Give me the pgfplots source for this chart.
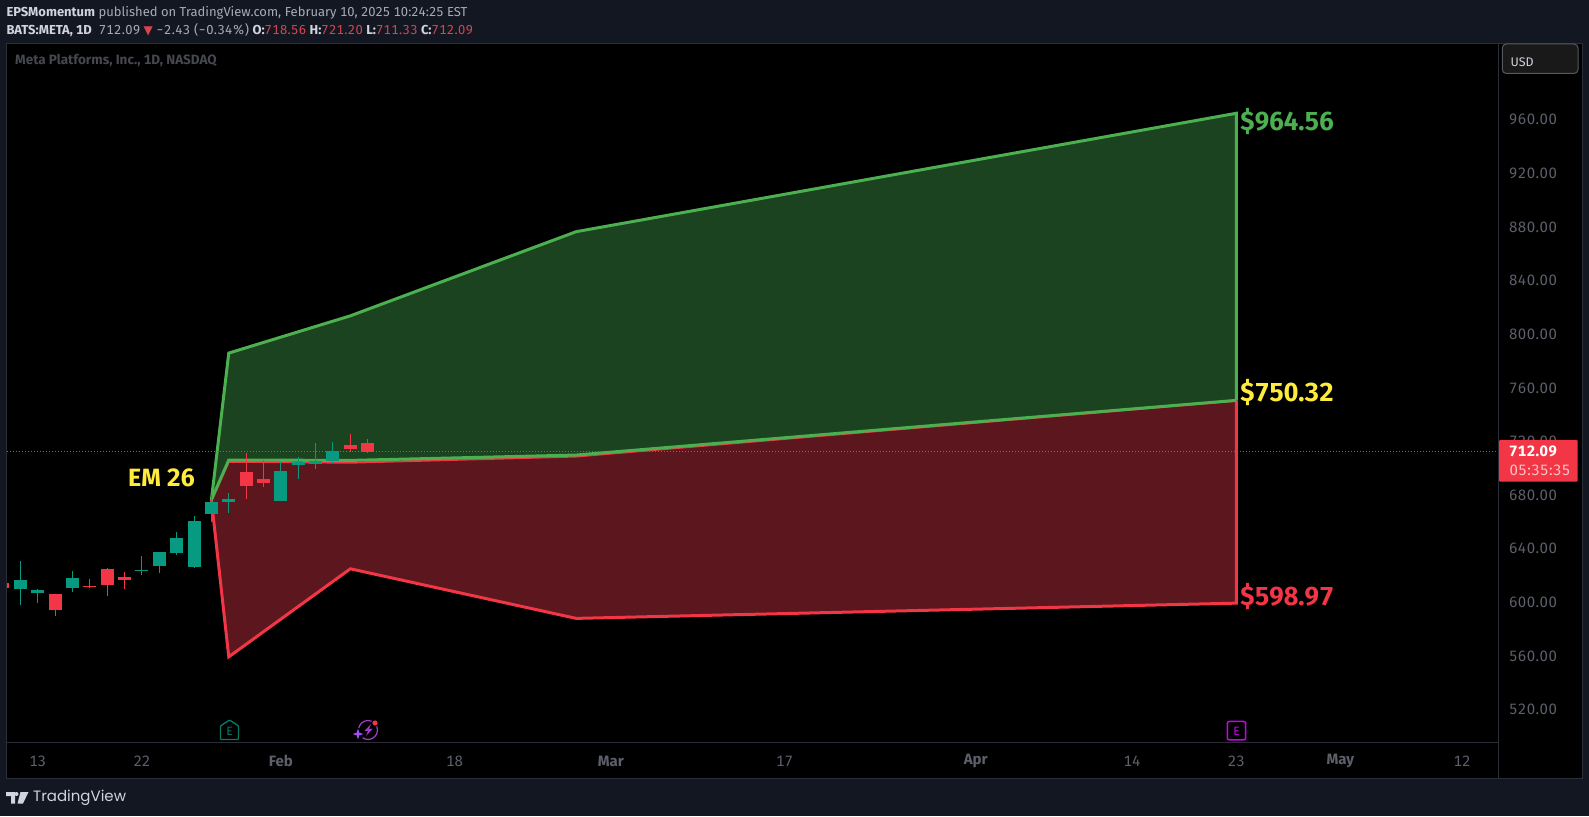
\documentclass[border=0pt]{standalone}
\usepackage{fontspec}
\setmainfont[Numbers=Tabular]{Fira Sans}
\newfontfamily\dv{DejaVu Sans}
\newfontfamily\logofont{Poppins}
\newfontfamily\fira[Numbers=Tabular]{Fira Sans}
\usepackage{pgfplots}
\pgfplotsset{compat=1.18}
\definecolor{bg}{HTML}{131722}
\definecolor{frame}{HTML}{2A2E39}
\definecolor{ticktxt}{HTML}{5D606B}
\definecolor{cgreen}{HTML}{089981}
\definecolor{cred}{HTML}{F23645}
\definecolor{lgreen}{HTML}{4CAF50}
\definecolor{fgreen}{HTML}{1C431F}
\definecolor{fred}{HTML}{5C161D}
\definecolor{yel}{HTML}{FFEB3B}
\definecolor{headA}{HTML}{D1D4DC}
\definecolor{headB}{HTML}{A8ABB4}
\definecolor{headR}{HTML}{D64550}
\definecolor{emag}{HTML}{CC00EE}
\definecolor{spark}{HTML}{A23CC8}
\begin{document}
\begin{tikzpicture}[x=1pt,y=1pt]
\fill[bg] (0,0) rectangle (1589,816);
\fill[black] (6.67,37) rectangle (1582,772.7);
\begin{axis}[
  at={(6.67pt,73pt)}, anchor=south west,
  scale only axis, width=1491.33pt, height=699.7pt,
  xmin=-0.786, xmax=85.07, ymin=494.6, ymax=1016.8,
  axis background/.style={fill=black},
  axis line style={draw=frame,line width=1pt},
  axis x line*=bottom, axis y line*=right,
  major tick length=0pt,
  xtick={1,7,15,25,34,44,55,64,70,76,83},
  xticklabels={13,22,\textbf{Feb},18,\textbf{Mar},17,\textbf{Apr},14,23,\textbf{May},12},
  ytick={520,560,600,640,680,720,760,800,840,880,920,960},
  /pgf/number format/assume math mode=true,
  /pgf/number format/fixed,/pgf/number format/fixed zerofill,/pgf/number format/precision=2,
  xticklabel style={font=\fontsize{15}{17}\selectfont,text=ticktxt,anchor=center,yshift=-18pt},
  yticklabel style={font=\fontsize{15}{17}\selectfont\addfontfeature{LetterSpace=3},text=ticktxt,anchor=center,xshift=35pt,yshift=-0.5pt},
  unbounded coords=jump,
]
% areas
\addplot[fill=fgreen,draw=none] coordinates {(11,676)(12,785.6)(19,813.4)(32,876.2)(70,964.56)(70,750.32)(32,709.3)(19,705.5)(12,705.5)} -- cycle;
\addplot[fill=fred,draw=none] coordinates {(11,676)(12,705)(19,704)(32,708.6)(70,750.32)(70,598.97)(32,587.6)(19,624.6)(12,558.9)} -- cycle;
% last price line
\addplot[cred,line width=0.8pt,dash pattern=on 1pt off 2pt] coordinates {(-0.786,712.09)(70,712.09)(85.07,712.09)};
% band outlines
\addplot[cred,line width=3pt,line join=miter] coordinates {(11,676)(12,558.9)(19,624.6)(32,587.6)(70,598.97)(70,750.32)};
\addplot[cred,line width=2pt] coordinates {(11,676)(12,704.5)(19,703.8)(32,708.4)(70,750)};
\addplot[lgreen,line width=3pt,line join=miter] coordinates {(11,676)(12,785.6)(19,813.4)(32,876.2)(70,964.56)(70,750.32)};
\addplot[lgreen,line width=3pt] coordinates {(11,676)(12,705.8)(19,705.5)(32,709.5)(70,750.32)};
% wicks
\addplot[cgreen,line width=1pt] coordinates {
(0,630.3)(0,597.5)(0,nan)
(1,609.4)(1,599.0)(1,nan)
(3,622.8)(3,607.2)(3,nan)
(7,634.0)(7,619.8)(7,nan)
(8,637.0)(8,621.3)(8,nan)
(9,651.9)(9,634.8)(9,nan)
(10,663.8)(10,625.1)(10,nan)
(11,679.5)(11,659.3)(11,nan)
(12,680.9)(12,666.0)(12,nan)
(15,704.0)(15,675.0)(15,nan)
(16,707.8)(16,691.4)(16,nan)
(17,718.2)(17,698.8)(17,nan)
(18,719.0)(18,703.3)};
\addplot[cred,line width=1pt] coordinates {
(2,605.7)(2,589.3)(2,nan)
(4,616.9)(4,610.2)(4,nan)
(5,625.1)(5,604.2)(5,nan)
(6,622.1)(6,609.4)(6,nan)
(13,710.8)(13,676.5)(13,nan)
(14,705.5)(14,685.4)(14,nan)
(19,724.9)(19,711.5)(19,nan)
(20,721.20)(20,711.33)};
% bodies
\addplot[cgreen,line width=13pt] coordinates {
(0,616.1)(0,609.4)(0,nan)
(1,608.7)(1,606.4)(1,nan)
(3,617.6)(3,610.2)(3,nan)
(7,623.6)(7,622.8)(7,nan)
(8,637.0)(8,626.6)(8,nan)
(9,647.4)(9,636.2)(9,nan)
(10,660.1)(10,625.8)(10,nan)
(11,674.2)(11,665.3)(11,nan)
(12,676.5)(12,674.2)(12,nan)
(15,697.3)(15,675.0)(15,nan)
(16,704.0)(16,701.8)(16,nan)
(17,704.8)(17,702.6)(17,nan)
(18,712.2)(18,704.8)};
\addplot[cred,line width=13pt] coordinates {
(-1,613.9)(-1,610.2)(-1,nan)
(2,605.7)(2,593.8)(2,nan)
(4,611.6)(4,610.9)(4,nan)
(5,624.3)(5,612.4)(5,nan)
(6,618.4)(6,616.1)(6,nan)
(13,696.6)(13,686.2)(13,nan)
(14,691.4)(14,688.4)(14,nan)
(19,716.7)(19,713.7)(19,nan)
(20,718.56)(20,712.09)};
\end{axis}
% frame of panels
\draw[frame,line width=1pt] (6.67,37) rectangle (1582,772.7);
\draw[frame,line width=1pt] (1498,37) -- (1498,772.7);
% header
\node[anchor=west,inner sep=0,font=\fontsize{13}{15}\selectfont,text=headB] at (6.3,803.3)
 {\textcolor{headA}{\textbf{EPSMomentum}} published on TradingView.com, February 10, 2025 10:24:25 EST};
\node[anchor=west,inner sep=0,font=\fontsize{13}{15}\selectfont,text=headB] at (6.3,786.3)
 {\textcolor{headA}{\textbf{BATS:META, 1D}}\ \ {\addfontfeature{LetterSpace=3}712.09} {\dv\fontsize{12}{13}\selectfont\textcolor{headR}{▼}} {\addfontfeature{LetterSpace=3}−2.43 (−0.34\%)} \textcolor{headA}{\textbf{O:}}\textcolor{headR}{\addfontfeature{LetterSpace=3}718.56} \textcolor{headA}{\textbf{H:}}\textcolor{headR}{\addfontfeature{LetterSpace=3}721.20} \textcolor{headA}{\textbf{L:}}\textcolor{headR}{\addfontfeature{LetterSpace=3}711.33} \textcolor{headA}{\textbf{C:}}\textcolor{headR}{\addfontfeature{LetterSpace=3}712.09}};
\node[anchor=west,inner sep=0,font=\fontsize{13.5}{15}\selectfont\bfseries,text=ticktxt!75!black] at (15,755.5) {Meta Platforms, Inc., 1D, NASDAQ};
% labels
\node[anchor=west,inner sep=0,font=\fontsize{26}{28}\selectfont\bfseries\fira,text=lgreen] at (1240,694) {\$964.56};
\node[anchor=west,inner sep=0,font=\fontsize{26}{28}\selectfont\bfseries\fira,text=yel] at (1240,423) {\$750.32};
\node[anchor=west,inner sep=0,font=\fontsize{26}{28}\selectfont\bfseries\fira,text=cred] at (1240,219) {\$598.97};
\node[anchor=west,inner sep=0,font=\fontsize{25}{26}\selectfont\bfseries\fira,text=yel] at (128,338) {EM 26};
% price tag
\fill[cred,rounded corners=1pt] (1499,334.3) rectangle (1577.7,376);
\node[inner sep=0,font=\fontsize{15}{16}\selectfont\bfseries,text=white] at (1533,364.7) {\addfontfeature{LetterSpace=3}712.09};
\node[inner sep=0,font=\fontsize{15}{16}\selectfont,text=white!70!cred] at (1540,345.5) {\addfontfeature{LetterSpace=3}05:35:35};
% USD button
\draw[fill=black!90!white,draw=frame!80!white,line width=1pt,rounded corners=4pt] (1502.3,772) rectangle (1578,742.5);
\node[anchor=west,inner sep=0,font=\fontsize{12.5}{14}\selectfont,text=headA] at (1510.5,754) {USD};
% earnings markers
\draw[cgreen!80!black,line width=1.3pt,line join=round,rounded corners=0.8pt] (220.5,76.5) -- (238.5,76.5) -- (238.5,90) -- (229.5,96) -- (220.5,90) -- cycle;
\node[inner sep=0,font=\fontsize{12}{12}\selectfont,text=cgreen!80!black] at (229.5,85) {E};
\draw[draw=emag,line width=1.5pt,rounded corners=2pt] (1227.3,76) rectangle (1245.7,94.5);
\node[inner sep=0,font=\fontsize{12}{12}\selectfont,text=emag] at (1236.5,85) {E};
% spark icon
\draw[draw=spark,line width=1.2pt] (368,86) circle (9.5);
\fill[spark] (371,92) -- (364.5,85) -- (368,85) -- (366,80) -- (372.5,87) -- (369,87) -- cycle;
\fill[black] (375,93) circle (4);
\fill[cred] (375,93) circle (2.6);
\fill[black] (358,82) circle (6);
\fill[blue!50!magenta!70!white] (358,76.5) -- (359.3,80.7) -- (363.5,82) -- (359.3,83.3) -- (358,87.5) -- (356.7,83.3) -- (352.5,82) -- (356.7,80.7) -- cycle;
% logo
\fill[headA] (6,24) -- (15,24) -- (15,12.5) -- (11,12.5) -- (11,20) -- (6,20) -- cycle;
\fill[headA] (16.5,22) circle (2);
\fill[headA] (20.5,24) -- (28.5,24) -- (23,12.5) -- (17.5,12.5) -- cycle;
\node[anchor=west,inner sep=0,font=\fontsize{15}{17}\selectfont\logofont,text=headA] at (33,18) {TradingView};
\end{tikzpicture}
\end{document}
